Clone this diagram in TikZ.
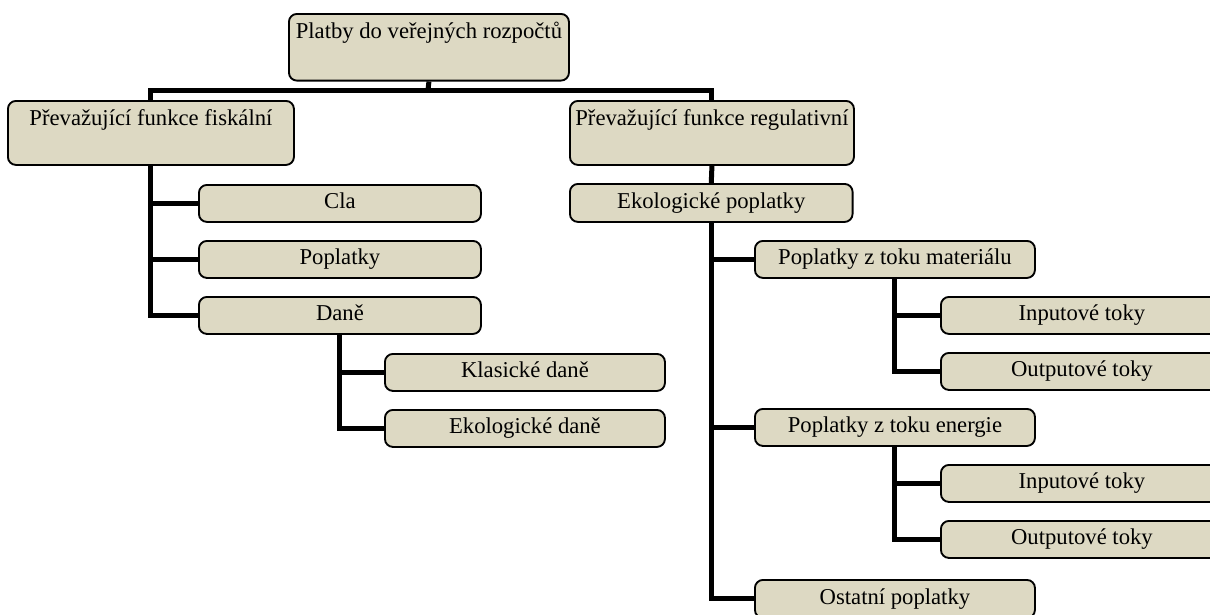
\documentclass[tikz,border=0pt]{standalone}
\usepackage{fontspec}
\setmainfont{Liberation Serif}
\usetikzlibrary{backgrounds}
\definecolor{boxfill}{HTML}{DDD9C3}

\tikzset{
  box/.style = {draw, line width=1.4pt, rounded corners=6pt, fill=boxfill,
    anchor=north west, inner sep=0pt, align=center,
    minimum width=211.5pt, minimum height=27.75pt,
    text height=11.5pt, text depth=3.5pt},
  tallbox/.style = {box, text height=18.5pt, text depth=29.5pt},
  link/.style = {line width=3.75pt},
}

\begin{document}
\begin{tikzpicture}[x=0.75pt, y=-0.75pt, font=\fontsize{17}{20}\selectfont]
        \clip (0,0) rectangle (1210,614);

        % top level
        \node[tallbox, minimum width=210pt, text depth=31.5pt] (root) at (288,13) {Platby do veřejných rozpočtů};
        \coordinate (split) at (428,90);

        \node[tallbox, minimum width=214.5pt] (fisk) at (7,100) {Převažující funkce fiskální};
        \node[tallbox, minimum width=213pt] (reg) at (569,100) {Převažující funkce regulativní};

        % fiscal branch
        \node[box] (cla) at (198,184) {Cla};
        \node[box] (popl) at (198,240) {Poplatky};
        \node[box] (dane) at (198,296) {Daně};
        \node[box, minimum width=210pt] (klas) at (384,353) {Klasické daně};
        \node[box, minimum width=210pt] (ekod) at (384,409) {Ekologické daně};

        % regulative branch
        \node[box, minimum width=212pt, minimum height=28.5pt] (ekop) at (569,183) {Ekologické poplatky};
        \node[box, minimum width=210pt] (mat) at (754,240) {Poplatky z toku materiálu};
        \node[box] (inm) at (940,296) {Inputové toky};
        \node[box] (outm) at (940,352) {Outputové toky};
        \node[box, minimum width=210pt] (ene) at (754,408) {Poplatky z toku energie};
        \node[box] (ine) at (940,464) {Inputové toky};
        \node[box] (oute) at (940,520) {Outputové toky};
        \node[box, minimum width=210pt, minimum height=28.5pt] (ost) at (754,579) {Ostatní poplatky};

        \begin{scope}[on background layer]
        \draw[link] (root.south) -- (split);
        \draw[link] (fisk.north) |- (split) -| (reg.north);
        \draw[link] (reg.south) -- (ekop.north);

        \draw[link] (fisk.south) |- (cla.west);
        \draw[link] (fisk.south) |- (popl.west);
        \draw[link] (fisk.south) |- (dane.west);
        \draw[link] (dane.south) |- (klas.west);
        \draw[link] (dane.south) |- (ekod.west);

        \draw[link] (ekop.south) |- (mat.west);
        \draw[link] (ekop.south) |- (ene.west);
        \draw[link] (ekop.south) |- (ost.west);
        \draw[link] (mat.south) |- (inm.west);
        \draw[link] (mat.south) |- (outm.west);
        \draw[link] (ene.south) |- (ine.west);
        \draw[link] (ene.south) |- (oute.west);
        \end{scope}
    \end{tikzpicture}
\end{document}
